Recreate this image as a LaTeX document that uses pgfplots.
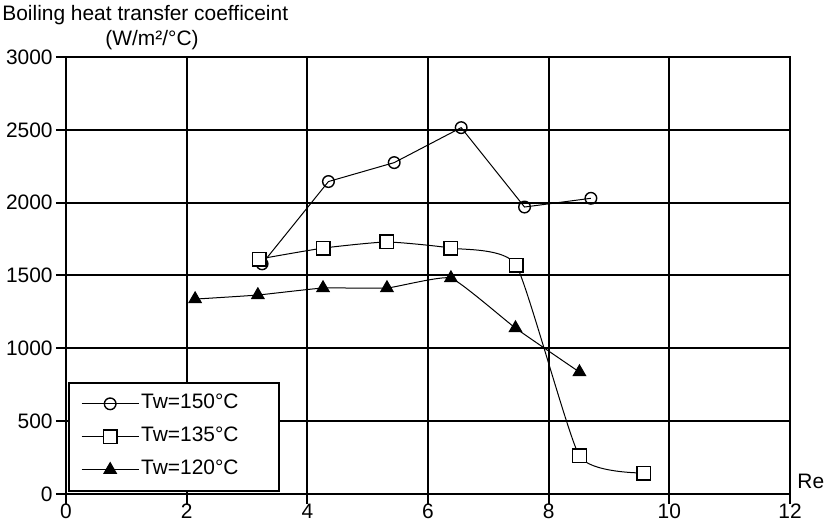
\documentclass[border=0pt]{standalone}
\usepackage{fontspec}
\setmainfont{Liberation Sans}
\usepackage{pgfplots}
\pgfplotsset{compat=1.18}
\usetikzlibrary{calc}
\begin{document}
\fontsize{10.5}{12}\selectfont
\begin{tikzpicture}
\begin{axis}[
 name=ax, at={(0,0)}, anchor=south west,
 scale only axis, width=362bp, height=218.5bp,
 xmin=0, xmax=12, ymin=0, ymax=3000,
 xtick={0,2,...,12}, ytick={0,500,...,3000},
 xtick pos=bottom, ytick pos=left,
 grid=major, major grid style={black, line width=1bp},
 axis line style={line width=1bp},
 tick style={black, line width=1bp}, tick align=outside, major tick length=5bp,
 /pgf/number format/assume math mode=true,
 /pgf/number format/1000 sep={},
 ticklabel style={font=\fontsize{10.5}{12}\selectfont},
 yticklabel style={xshift=2bp},
 xticklabel style={yshift=3.5bp},
 legend cell align=left,
 legend style={at={(0.003,0.005)}, anchor=south west, draw=black, line width=1bp,
   inner xsep=6bp, inner ysep=4.5bp, row sep=4.5bp,
   nodes={inner sep=1bp, text height=7.5bp, text depth=2.5bp},
   font=\fontsize{10.5}{12}\selectfont},
 legend image code/.code={\draw[#1, mark repeat=2, mark phase=2] plot coordinates {(0bp,0bp) (14.25bp,0bp) (28.5bp,0bp)};},
]
\addplot[black, line width=0.5bp, mark=o, mark size=2.9bp,
  mark options={solid, fill=white, line width=0.7bp}]
  coordinates {(3.25,1580) (4.35,2145) (5.44,2275) (6.55,2515) (7.6,1970) (8.7,2030)};
\addlegendentry{\makebox[62bp][l]{Tw=150°C}}
\addplot[black, line width=0.5bp, smooth, tension=0.3, mark=square*, mark size=3.4bp,
  mark options={solid, fill=white, line width=0.7bp}]
  coordinates {(3.2,1613) (4.26,1688) (5.32,1730) (6.38,1688) (7.46,1572) (8.51,261) (9.58,144)};
\addlegendentry{\makebox[62bp][l]{Tw=135°C}}
\addplot[black, line width=0.5bp, smooth, tension=0.25, mark=triangle*, mark size=3.6bp,
  mark options={solid, fill=black, line width=0.5bp}]
  coordinates {(2.14,1338) (3.18,1366) (4.26,1414) (5.32,1414) (6.38,1482) (7.45,1139) (8.51,837)};
\addlegendentry{\makebox[62bp][l]{Tw=120°C}}
\end{axis}
\node[anchor=west, inner sep=0pt] at ($(ax.north west)+(-32bp,21bp)$) {Boiling heat transfer coefficeint};
\node[inner sep=0pt] at ($(ax.north west)+(43bp,8.5bp)$) {(W/m²/°C)};
\node[anchor=west, inner sep=0pt] at ($(ax.south east)+(3.5bp,6.5bp)$) {Re};
\pgfresetboundingbox
\path[use as bounding box] ($(ax.south west)+(-33bp,-14.5bp)$) rectangle ($(ax.north east)+(17bp,28.5bp)$);
\end{tikzpicture}
\end{document}
